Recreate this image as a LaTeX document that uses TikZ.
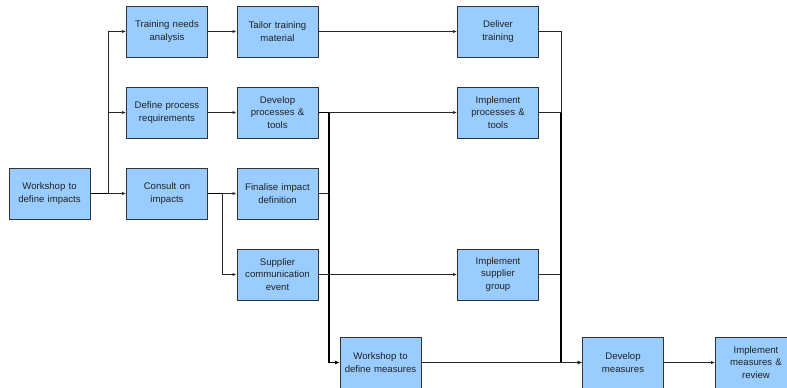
\documentclass[tikz,border=0pt]{standalone}
\usepackage{fontspec}
\setmainfont{Liberation Sans}
\usetikzlibrary{arrows.meta}
\definecolor{boxfill}{HTML}{99CCFF}
\definecolor{boxline}{HTML}{333333}
\definecolor{txt}{HTML}{222222}
\begin{document}
\begin{tikzpicture}[x=1pt,y=-1pt,
  stepbox/.style={draw=boxline,fill=boxfill,line width=0.8pt,minimum width=81pt,minimum height=51pt,
    inner sep=0pt,align=center,text width=80pt,font=\fontsize{9.6}{12.3}\selectfont,text=txt},
  arr/.style={line width=0.8pt,draw=black!85,-{Latex[length=4pt,width=3.2pt]}},
  ln/.style={line width=0.8pt,draw=black!85},
  thk/.style={line width=1.5pt,draw=black}]
\clip (0,0) rectangle (787,388);
\useasboundingbox (0,0) rectangle (787,388);
% nodes
\node[stepbox] (wdi) at (49.5,193.5) {Workshop to\\define impacts};
\node[stepbox] (tna) at (167,31.5) {Training needs\\analysis};
\node[stepbox] (ttm) at (277.5,31.5) {Tailor training\\material};
\node[stepbox] (dpr) at (167,112.5) {Define process\\requirements};
\node[stepbox] (dpt) at (277.5,112.5) {Develop\\processes \&\\tools};
\node[stepbox] (coi) at (167,193.5) {Consult on\\impacts};
\node[stepbox] (fid) at (277.5,193.5) {Finalise impact\\definition};
\node[stepbox] (sce) at (277.5,274.5) {Supplier\\communication\\event};
\node[stepbox] (dt) at (498,31.5) {Deliver\\training};
\node[stepbox] (ipt) at (498,112.5) {Implement\\processes \&\\tools};
\node[stepbox] (isg) at (498,274.5) {Implement\\supplier\\group};
\node[stepbox] (wdm) at (380.5,362.5) {Workshop to\\define measures};
\node[stepbox] (dm) at (623,362.5) {Develop\\measures};
\node[stepbox] (imr) at (756,362.5) {Implement\\measures \&\\review};
% junctions
\coordinate (j1) at (108,193.5);
\coordinate (j2) at (222,193.5);
\coordinate (j3) at (329,112.5);
\coordinate (j3b) at (329,193.5);
\coordinate (j4) at (561,31.5);
\coordinate (j4b) at (561,112.5);
\coordinate (j4c) at (561,274.5);
% connectors
\draw[thk] (wdi.east) -- (j1);
\draw[arr] (j1) |- (tna.west);
\draw[arr] (j1) |- (dpr.west);
\draw[arr] (j1) -- (coi.west);
\draw[arr] (tna) -- (ttm);
\draw[arr] (ttm) -- (dt);
\draw[arr] (dpr) -- (dpt);
\draw[arr] (dpt) -- (ipt);
\draw[thk] (dpt.east) -- (j3);
\draw[thk,-{Latex[length=4.5pt,width=4pt]}] (j3) |- (wdm.west);
\draw[ln] (fid.east) -- (j3b);
\draw[thk] (coi.east) -- (j2);
\draw[arr] (j2) -- (fid.west);
\draw[arr] (j2) |- (sce.west);
\draw[arr] (sce) -- (isg);
\draw[ln] (dt.east) -- (j4) -- (j4b);
\draw[ln] (ipt.east) -- (j4b);
\draw[ln] (isg.east) -- (j4c);
\draw[thk] (j4b) -- (j4c);
\draw[thk,-{Latex[length=4.5pt,width=4pt]}] (j4c) |- (dm.west);
\draw[arr] (wdm) -- (dm);
\draw[arr] (dm) -- (imr);
\end{tikzpicture}
\end{document}
